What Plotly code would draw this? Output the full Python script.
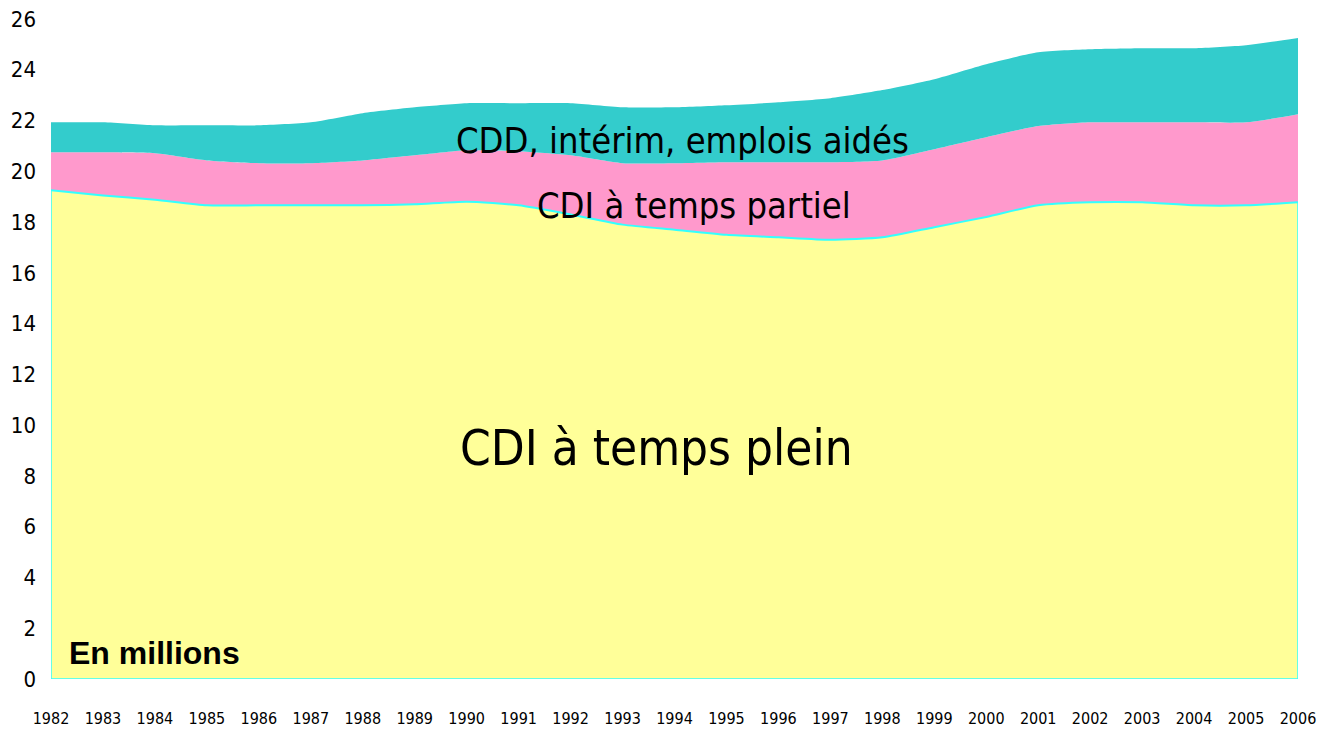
import plotly.graph_objects as go

years = list(range(1982, 2007))

# millions of jobs
cdi_temps_plein = [19.25, 19.05, 18.88, 18.66, 18.66, 18.66, 18.66, 18.70, 18.80, 18.66,
                   18.30, 17.90, 17.70, 17.50, 17.40, 17.30, 17.40, 17.80, 18.20, 18.66,
                   18.78, 18.78, 18.66, 18.66, 18.78]
cdi_temps_partiel = [1.50, 1.70, 1.83, 1.77, 1.66, 1.66, 1.77, 1.93, 2.03, 2.13,
                     2.33, 2.42, 2.62, 2.86, 2.96, 3.06, 3.03, 3.07, 3.14, 3.12,
                     3.15, 3.15, 3.27, 3.27, 3.47]
cdd_interim_aides = [1.18, 1.18, 1.10, 1.38, 1.49, 1.61, 1.86, 1.89, 1.85, 1.89,
                     2.05, 2.20, 2.20, 2.24, 2.36, 2.52, 2.77, 2.76, 2.88, 2.91,
                     2.88, 2.92, 2.92, 3.04, 3.00]

cond_font = "DejaVu Sans Condensed, Liberation Sans Narrow, DejaVu Sans"

fig = go.Figure()

fig.add_trace(go.Scatter(
    x=years, y=cdi_temps_plein, stackgroup="emploi", mode="lines",
    fillcolor="#FFFF99", line=dict(color="#33FFFF", width=2, shape="spline", smoothing=0.6),
    hoverinfo="skip",
))
fig.add_trace(go.Scatter(
    x=years, y=cdi_temps_partiel, stackgroup="emploi", mode="lines",
    fillcolor="#FF99CC", line=dict(color="#FF99CC", width=0, shape="spline", smoothing=0.6),
    hoverinfo="skip",
))
fig.add_trace(go.Scatter(
    x=years, y=cdd_interim_aides, stackgroup="emploi", mode="lines",
    fillcolor="#33CCCC", line=dict(color="#33CCCC", width=0, shape="spline", smoothing=0.6),
    hoverinfo="skip",
))

# cyan border around the full-time area (sides and bottom)
x0, x1 = years[0], years[-1]
fig.add_trace(go.Scatter(
    x=[x0, x0, None, x1, x1, None, x0, x1],
    y=[0, cdi_temps_plein[0], None, 0, cdi_temps_plein[-1], None, 0, 0],
    mode="lines", line=dict(color="#33FFFF", width=1.5), hoverinfo="skip",
))

fig.add_annotation(x=1994.16, y=21.2, text="CDD, intérim, emplois aidés", showarrow=False,
                   font=dict(family=cond_font, size=36, color="black"))
fig.add_annotation(x=1994.37, y=18.66, text="CDI à temps partiel", showarrow=False,
                   font=dict(family=cond_font, size=36, color="black"))
fig.add_annotation(x=1993.66, y=9.07, text="CDI à temps plein", showarrow=False,
                   font=dict(family=cond_font, size=49, color="black"))
fig.add_annotation(x=1982.3, y=1.03, text="<b>En millions</b>", showarrow=False,
                   xanchor="left", font=dict(family="Liberation Sans, Arial", size=32, color="black"))

# the page has an 8px body margin, so the margins are shifted by 8px to compensate
fig.update_layout(
    width=1328, height=731,
    margin=dict(l=43, r=38, t=11, b=60),
    plot_bgcolor="white", paper_bgcolor="white",
    showlegend=False,
    xaxis=dict(
        range=[x0, x1], tickvals=years, showgrid=False, zeroline=False,
        ticks="", ticklabelstandoff=28, automargin=False, ticklabeloverflow="allow",
        tickfont=dict(family=cond_font, size=16, color="black"),
    ),
    yaxis=dict(
        range=[0, 26], dtick=2, showgrid=False, zeroline=False,
        ticks="", ticklabelstandoff=14, automargin=False, ticklabeloverflow="allow",
        tickfont=dict(family=cond_font, size=22, color="black"),
    ),
)

fig.write_html("out.html")
